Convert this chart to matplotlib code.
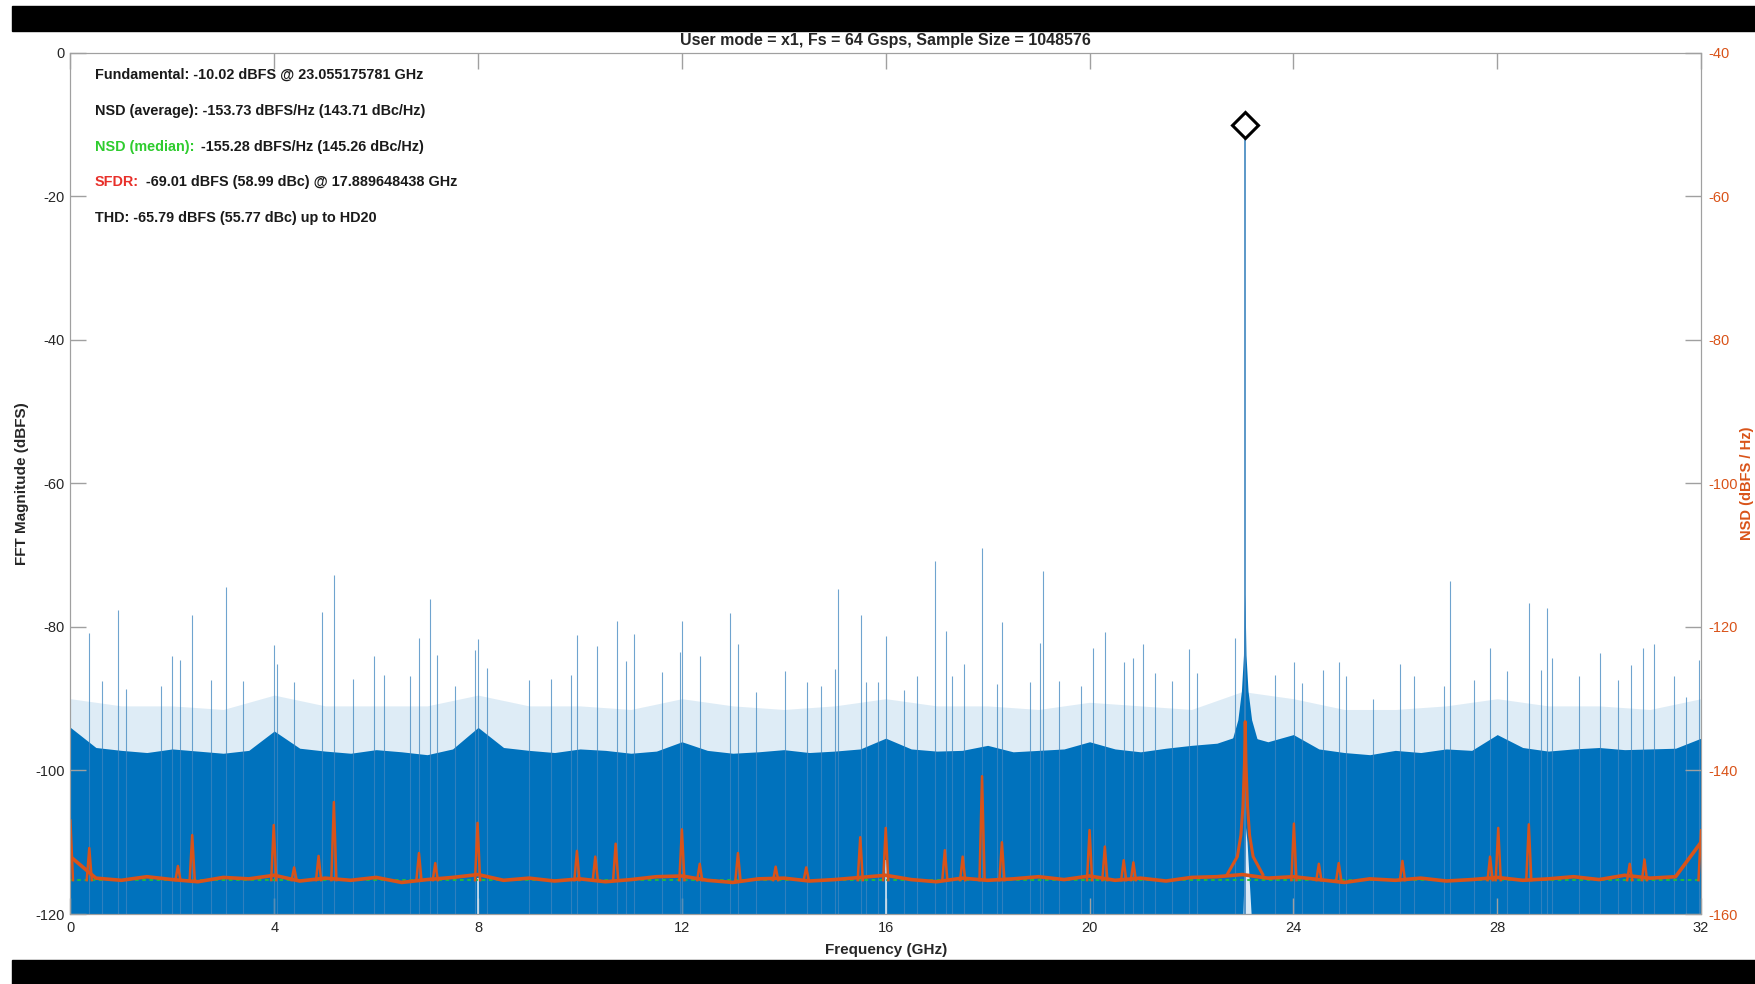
import numpy as np
import matplotlib
matplotlib.use("Agg")
from matplotlib import pyplot as plt
from matplotlib.patches import Rectangle

plt.rcParams['font.family'] = ['Liberation Sans', 'DejaVu Sans']
plt.rcParams['axes.unicode_minus'] = False

# ---- values ----
fs_half = 32.0
fund_f, fund_db = 23.055175781, -10.02
nsd_median = -155.28

# top of the solid noise band, every 0.5 GHz (dBFS)
band_f = np.arange(0, 32.5, 0.5)
band_top = [-94.0, -96.8, -97.2, -97.5, -97.0, -97.3, -97.6, -97.2,
            -94.5, -96.9, -97.3, -97.6, -97.1, -97.4, -97.8, -97.0,
            -94.0, -96.8, -97.2, -97.5, -97.0, -97.2, -97.6, -97.3,
            -96.0, -97.2, -97.6, -97.4, -97.1, -97.5, -97.3, -97.0,
            -95.5, -97.0, -97.3, -97.2, -96.5, -97.4, -97.2, -97.0,
            -96.0, -97.0, -97.4, -96.9, -96.5, -96.2, -95.0, -96.0,
            -95.0, -97.0, -97.5, -97.8, -97.2, -97.5, -97.0, -97.2,
            -95.0, -96.8, -97.3, -97.0, -96.8, -97.1, -97.0, -96.9,
            -95.5]
# top of the light "grass" above it, every 1 GHz
grass_f = np.arange(0, 33, 1.0)
grass_top = [-90.0, -91.0, -91.0, -91.5, -89.5, -91.0, -91.0, -91.0, -89.5, -91.0,
             -91.0, -91.5, -90.0, -91.0, -91.5, -91.0, -90.0, -91.0, -91.0, -91.5,
             -90.5, -91.0, -91.5, -89.0, -90.0, -91.5, -91.5, -91.0, -90.0, -91.0,
             -91.0, -91.5, -90.0]

# spurs in the FFT (GHz, dBFS)
spur_f = [0.37, 0.62, 0.93, 1.10, 1.77, 2.00, 2.16, 2.38, 2.76, 3.05,
          3.38, 3.99, 4.05, 4.39, 4.94, 5.17, 5.55, 5.96, 6.15, 6.66,
          6.84, 7.06, 7.19, 7.55, 7.93, 8.00, 8.17, 9.00, 9.44, 9.82,
          9.95, 10.33, 10.72, 10.90, 11.06, 11.61, 11.96, 12.00, 12.35, 12.95,
          13.10, 13.45, 14.03, 14.45, 14.72, 15.00, 15.06, 15.51, 15.61, 15.85,
          16.00, 16.36, 16.61, 16.96, 17.18, 17.30, 17.53, 17.89, 18.18, 18.28,
          18.83, 19.03, 19.08, 19.40, 19.83, 20.07, 20.30, 20.68, 20.85, 21.05,
          21.28, 21.62, 21.96, 22.11, 22.86, 23.64, 24.01, 24.17, 24.58, 24.90,
          25.03, 25.57, 26.09, 26.37, 26.96, 27.07, 27.54, 27.86, 28.19, 28.62,
          28.86, 28.97, 29.07, 29.60, 30.02, 30.37, 30.63, 30.86, 31.08, 31.47,
          31.70, 31.96]
spur_db = [-80.9, -87.6, -77.6, -88.6, -88.3, -84.1, -84.6, -78.3, -87.4, -74.4,
           -87.6, -82.5, -85.2, -87.7, -77.9, -72.8, -87.2, -84.1, -86.7, -86.9,
           -81.5, -76.1, -83.9, -88.3, -83.2, -81.7, -85.7, -87.4, -87.2, -86.7,
           -81.1, -82.7, -79.2, -84.8, -81.0, -86.3, -83.5, -79.2, -84.0, -78.0,
           -82.4, -89.0, -86.2, -87.7, -88.3, -85.8, -74.7, -78.4, -87.7, -87.7,
           -81.2, -88.8, -86.8, -70.8, -80.6, -86.8, -85.1, -69.01, -88.0, -79.3,
           -87.7, -82.2, -72.2, -87.6, -88.3, -82.9, -80.7, -84.9, -84.4, -82.4,
           -86.4, -87.6, -83.1, -86.4, -81.5, -86.7, -84.9, -87.8, -86.0, -84.9,
           -86.9, -90.0, -85.2, -86.8, -88.3, -73.6, -87.4, -83.0, -86.2, -76.6,
           -86.0, -77.3, -84.4, -86.9, -83.7, -87.4, -85.3, -82.9, -82.4, -86.9,
           -89.7, -84.6]

# skirt of the fundamental in the FFT
skirt_f = [22.80, 22.92, 22.99, 23.03, 23.045, 23.055, 23.065, 23.08, 23.12, 23.19, 23.31]
skirt_db = [-96.0, -93.0, -89.0, -84.0, -78.0, -75.5, -78.0, -84.0, -89.0, -93.0, -96.0]

# white dips at the bottom of the noise
dip_f = [8.0, 16.0]
dip_db = [-115.0, -112.5]
dip_fund_f = [23.02, 23.07, 23.10, 23.18]
dip_fund_db = [-120.0, -108.0, -110.0, -120.0]

# NSD trace (dBFS/Hz), baseline every 0.5 GHz
nsd_base = [-152.0, -155.0, -155.3, -154.8, -155.2, -155.5, -154.9, -155.1,
            -154.6, -155.4, -155.0, -155.3, -154.9, -155.6, -155.2, -154.9,
            -154.5, -155.3, -155.0, -155.4, -155.1, -155.5, -155.2, -154.8,
            -154.7, -155.3, -155.6, -155.1, -155.0, -155.4, -155.2, -154.9,
            -154.6, -155.2, -155.5, -155.0, -155.3, -155.1, -154.8, -155.2,
            -154.7, -155.3, -155.0, -155.4, -154.9, -154.8, -154.5, -155.0,
            -154.8, -155.2, -155.6, -155.1, -155.3, -155.0, -155.4, -155.2,
            -154.9, -155.3, -155.1, -154.8, -155.2, -154.6, -155.0, -154.8,
            -150.0]
nsd_spur_f = [0.0, 0.37, 2.11, 2.39, 3.99, 4.39, 4.87, 5.17, 6.84, 7.16,
              7.99, 9.94, 10.30, 10.70, 12.00, 12.35, 13.10, 13.84, 14.44, 15.50,
              16.00, 17.16, 17.51, 17.89, 18.28, 20.00, 20.30, 20.67, 20.86, 24.01,
              24.50, 24.89, 26.14, 27.86, 28.02, 28.62, 30.60, 30.89, 32.0]
nsd_spur_db = [-146.9, -150.8, -153.3, -149.0, -147.6, -153.5, -151.9, -144.4, -151.5, -152.9,
               -147.3, -151.2, -152.0, -150.2, -148.2, -153.0, -151.5, -153.4, -153.5, -149.3,
               -148.0, -151.1, -152.0, -140.8, -150.0, -148.3, -150.6, -152.5, -152.8, -147.4,
               -153.0, -152.9, -152.6, -152.0, -148.0, -147.5, -153.0, -152.4, -148.3]
nsd_fund_f = [22.70, 22.90, 22.97, 23.01, 23.04, 23.055, 23.07, 23.10, 23.14, 23.21, 23.40]
nsd_fund_db = [-154.5, -152.0, -149.0, -145.0, -139.0, -133.2, -139.0, -145.0, -149.0, -152.0, -154.5]

x_ticks = [0, 4, 8, 12, 16, 20, 24, 28, 32]
info_lines = [
    ("", "Fundamental: -10.02 dBFS @ 23.055175781 GHz"),
    ("", "NSD (average): -153.73 dBFS/Hz (143.71 dBc/Hz)"),
    ("NSD (median):", " -155.28 dBFS/Hz (145.26 dBc/Hz)"),
    ("SFDR:", " -69.01 dBFS (58.99 dBc) @ 17.889648438 GHz"),
    ("", "THD: -65.79 dBFS (55.77 dBc) up to HD20"),
]
prefix_colors = {"NSD (median):": "#2ecc2e", "SFDR:": "#e8302a"}

blue = "#0072BD"
orange = "#D95319"
grey = "#a0a0a0"

fig = plt.figure(figsize=(17.56, 9.84), dpi=100)
fig.patches.append(Rectangle((0.0068, 0.9685), 1.0, 0.0258, transform=fig.transFigure,
                             color="black", zorder=0))
fig.patches.append(Rectangle((0.0068, 0.0), 1.0, 0.0244, transform=fig.transFigure,
                             color="black", zorder=0))

ax = fig.add_axes([0.0401, 0.0711, 0.9286, 0.8754])

# FFT magnitude
ax.fill_between(grass_f, -120, grass_top, color=blue, alpha=0.13, lw=0)
ax.fill_between(band_f, -120, band_top, color=blue, lw=0)
ax.vlines(spur_f, -120, spur_db, color="#3f86bf", lw=0.8, alpha=0.75)
ax.fill(skirt_f, skirt_db, color=blue, lw=0)
ax.vlines([fund_f], -120, [fund_db], color="#3f86bf", lw=1.2)
ax.vlines(dip_f, -120, dip_db, color="white", lw=1.2, alpha=0.8)
ax.fill(dip_fund_f, dip_fund_db, color="#dbeaf6", lw=0)
ax.plot([fund_f], [fund_db], marker="D", ms=13, mfc="white", mec="black", mew=2.2, zorder=5)

ax.set_xlim(0, fs_half)
ax.set_ylim(-120, 0)
ax.set_xticks(x_ticks)
ax.set_yticks(np.arange(-120, 1, 20))
ax.tick_params(axis="both", direction="in", length=11.5, width=1, color=grey,
               labelcolor="#262626", labelsize=10.5, top=True, right=False)
ax.tick_params(axis="x", pad=5)
ax.tick_params(axis="y", pad=4)
for s in ax.spines.values():
    s.set_color(grey)
ax.set_xlabel("Frequency (GHz)", fontsize=11, fontweight="bold", color="#262626")
ax.xaxis.set_label_coords(0.5, -0.034)
ax.set_ylabel("FFT Magnitude (dBFS)", fontsize=11, fontweight="bold", color="#262626")
ax.yaxis.set_label_coords(-0.0255, 0.5)
ax.text(0.5, 1.0146, "User mode = x1, Fs = 64 Gsps, Sample Size = 1048576",
        transform=ax.transAxes, ha="center", va="center", fontsize=11.5,
        fontweight="bold", color="#262626")

# info text block
for (prefix, rest), yy in zip(info_lines, [0.974, 0.932, 0.891, 0.850, 0.808]):
    if prefix:
        t = ax.text(0.015, yy, prefix, transform=ax.transAxes, va="center",
                    fontsize=10.4, fontweight="bold", color=prefix_colors[prefix])
        ax.annotate(rest, xy=(1, 0.5), xycoords=t, xytext=(2, 0),
                    textcoords="offset points", va="center", fontsize=10.4,
                    fontweight="bold", color="#1a1a1a")
    else:
        ax.text(0.015, yy, rest, transform=ax.transAxes, va="center",
                fontsize=10.4, fontweight="bold", color="#1a1a1a")

# NSD on the right axis
ax2 = ax.twinx()
ax2.set_ylim(-160, -40)
ax2.set_yticks(np.arange(-160, -39, 20))
ax2.axhline(nsd_median, color="#22c03a", ls=(0, (2, 2)), lw=1.3, zorder=1)
ax2.plot(np.arange(0, 32.5, 0.5), nsd_base, color=orange, lw=2.6, zorder=2)
for f, db in zip(nsd_spur_f, nsd_spur_db):
    ax2.plot([f - 0.05, f, f + 0.05], [nsd_median, db, nsd_median], color=orange, lw=1.8, zorder=2)
ax2.plot(nsd_fund_f, nsd_fund_db, color=orange, lw=2.2, zorder=2)
ax2.tick_params(axis="y", direction="in", length=11.5, width=1, color=grey,
                labelcolor=orange, labelsize=10.5, pad=5)
for s in ax2.spines.values():
    s.set_color(grey)
ax2.set_ylabel("NSD (dBFS / Hz)", fontsize=10.5, fontweight="bold", color=orange, rotation=90)
ax2.yaxis.set_label_coords(1.0238, 0.5)

fig.savefig("out.png", dpi=100)
